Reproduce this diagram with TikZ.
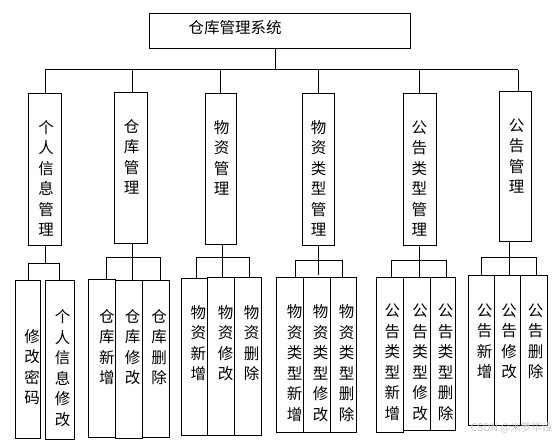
\documentclass[tikz,border=0pt]{standalone}
\usepackage{fontspec}
\newfontfamily\cjk{Noto Sans CJK SC}
\newcommand\bx[5]{%
  \pgfmathsetmacro\bw{#4-#2}\pgfmathsetmacro\bh{#5-#3}%
  \pgfmathsetmacro\bcx{(#2+#4)/2}\pgfmathsetmacro\bcy{(#3+#5)/2}%
  \node[box,minimum width=\bw pt,minimum height=\bh pt] (#1) at (\bcx,\bcy) {};}
\newcommand\vt[4]{%
  \pgfmathsetmacro\vty{#3-7.75}%
  \node[vtxt] (#1) at (#2,\vty) {\rule{0pt}{0.88em}#4};}
\begin{document}
\begin{tikzpicture}[x=1pt,y=-1pt,
  box/.style={draw,line width=0.9pt,inner sep=0pt},
  ln/.style={line width=0.9pt},
  vtxt/.style={anchor=north,inner sep=0pt,align=center,font=\cjk\fontsize{15.5}{20.5}\selectfont}]
\useasboundingbox (0,0) rectangle (558,440);
\fill[white] (0,0) rectangle (558,440);

% root
\bx{root}{149}{13}{410}{48}
\node[inner sep=0pt,font=\cjk\fontsize{15.5}{20.5}\selectfont] (roott) at (235,28) {仓库管理系统};

% level 1 boxes
\bx{A}{28.7}{93.3}{61.3}{245}
\bx{B}{114.3}{92}{147.3}{243.3}
\bx{C}{205.3}{93.3}{236.3}{244.3}
\bx{D}{302.3}{93.3}{334.3}{245.7}
\bx{E}{403.3}{93.3}{436.3}{245.3}
\bx{F}{499.3}{91}{531.3}{241}

\vt{At}{46}{127}{个\\人\\信\\息\\管\\理}
\vt{Bt}{131.7}{126}{仓\\库\\管\\理}
\vt{Ct}{221.7}{127}{物\\资\\管\\理}
\vt{Dt}{318.7}{127}{物\\资\\类\\型\\管\\理}
\vt{Et}{419.3}{127}{公\\告\\类\\型\\管\\理}
\vt{Ft}{516.7}{125}{公\\告\\管\\理}

% top bus
\coordinate (bus) at (0,69.5);
\draw[ln] ([xshift=-4.5pt]root.south) -- ([xshift=-4.5pt]root.south |- bus);
\draw[ln] (A.north |- bus) -- ([xshift=2.7pt]F.north |- bus);
\draw[ln] (A.north) -- (A.north |- bus);
\draw[ln] ([xshift=1.9pt]B.north) -- ([xshift=1.9pt]B.north |- bus);
\draw[ln] (C.north) -- (C.north |- bus);
\draw[ln] (D.north) -- (D.north |- bus);
\draw[ln] (E.north) -- (E.north |- bus);
\draw[ln] ([xshift=2.7pt]F.north) -- ([xshift=2.7pt]F.north |- bus);

% level 2 boxes
\bx{A1}{15.7}{280.7}{40.3}{438.3}
\bx{A2}{45.3}{280.7}{74.3}{439}
\bx{B1}{88.3}{279.3}{115.7}{437.3}
\bx{B2}{115.7}{280.7}{142.7}{438.7}
\bx{B3}{142.7}{280.7}{169.3}{437.3}
\bx{C1}{181.7}{278.3}{207.7}{435}
\bx{C2}{207.7}{277.3}{234.3}{435}
\bx{C3}{234.3}{277.7}{261}{435}
\bx{D1}{276.7}{277.3}{303.3}{432.7}
\bx{D2}{303.3}{277.3}{330.3}{432.7}
\bx{D3}{330.3}{277.3}{356.7}{432.7}
\bx{E1}{376.3}{277.3}{403.3}{432.3}
\bx{E2}{403.3}{277.3}{430.7}{430.7}
\bx{E3}{430.7}{277.3}{455.7}{430.7}
\bx{F1}{468}{275}{494.7}{425}
\bx{F2}{494.7}{275}{520.7}{425}
\bx{F3}{520.7}{275}{547.3}{425}

\vt{A1t}{32}{336}{修\\改\\密\\码}
\vt{A2t}{62.5}{316.7}{个\\人\\信\\息\\修\\改}
\vt{B1t}{107}{316}{仓\\库\\新\\增}
\vt{B2t}{132.5}{316}{仓\\库\\修\\改}
\vt{B3t}{159}{316}{仓\\库\\删\\除}
\vt{C1t}{198.3}{312}{物\\资\\新\\增}
\vt{C2t}{225.7}{312}{物\\资\\修\\改}
\vt{C3t}{251.7}{312}{物\\资\\删\\除}
\vt{D1t}{294.7}{311.7}{物\\资\\类\\型\\新\\增}
\vt{D2t}{320.7}{311.7}{物\\资\\类\\型\\修\\改}
\vt{D3t}{346.7}{311.7}{物\\资\\类\\型\\删\\除}
\vt{E1t}{392.3}{310.5}{公\\告\\类\\型\\新\\增}
\vt{E2t}{420}{310.5}{公\\告\\类\\型\\修\\改}
\vt{E3t}{445.7}{310.5}{公\\告\\类\\型\\删\\除}
\vt{F1t}{484.7}{310}{公\\告\\新\\增}
\vt{F2t}{509}{310}{公\\告\\修\\改}
\vt{F3t}{535.7}{310}{公\\告\\删\\除}

% group connectors
\coordinate (gA) at (45.7,263.3);
\draw[ln] (A.south) -- (A.south |- gA);
\draw[ln] (A1.north) |- (A.south |- gA) -| (A2.north);

\coordinate (gB) at (0,257.3);
\draw[ln] ([xshift=1.9pt]B.south) -- ([xshift=1.9pt]B.south |- B2.north);
\draw[ln] ([xshift=4.5pt]B1.north) |- ([xshift=4.3pt]B3.north |- gB) -- ([xshift=4.3pt]B3.north);

\coordinate (gC) at (0,257.3);
\draw[ln] ([xshift=1.9pt]C.south) -- ([xshift=1.9pt]C.south |- C2.north);
\draw[ln] ([xshift=2pt]C1.north) |- ([xshift=1.6pt]C3.north |- gC) -- ([xshift=1.6pt]C3.north);

\coordinate (gD) at (0,260);
\draw[ln] (D.south) -- ([yshift=2pt]D.south |- D2.north);
\draw[ln] ([xshift=5.7pt]D1.north) |- ([xshift=-1.2pt]D3.north |- gD) -- ([xshift=-1.2pt]D3.north);

\coordinate (gE) at (0,260);
\draw[ln] (E.south) -- (E.south |- E2.north);
\draw[ln] ([xshift=1.7pt]E1.north) |- ([xshift=3pt]E3.north |- gE) -- ([xshift=3pt]E3.north);

\coordinate (gF) at (0,257.3);
\draw[ln] ([xshift=-6pt]F.south) -- ([xshift=-6pt]F.south |- F2.north);
\draw[ln] (F1.north) |- ([xshift=2pt]F3.north |- gF) -- ([xshift=2pt]F3.north);

% watermark
\node[inner sep=0pt,text=black!22,font=\cjk\fontsize{10.5}{12}\selectfont] (wm) at (511.5,428) {CSDN @米罗毕设};
\end{tikzpicture}
\end{document}
